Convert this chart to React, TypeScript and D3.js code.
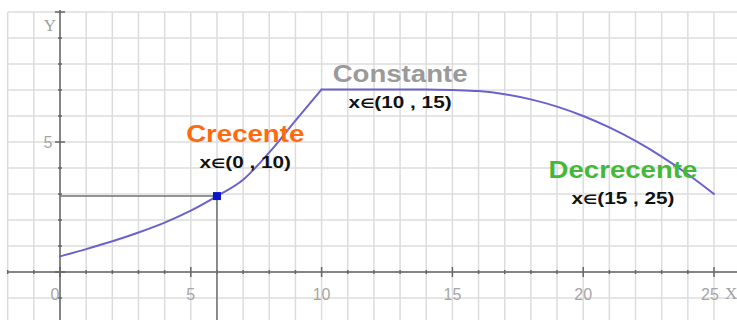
import React, { useEffect, useRef } from 'react';
import * as d3 from 'd3';

// values
const curveX = [0, 1, 2, 3, 4, 5, 6, 7, 8, 9, 10, 11, 12, 13, 14, 15, 16, 17, 18, 19, 20, 21, 22, 23, 24, 25];
const curveY = [0.6, 0.88, 1.18, 1.52, 1.9, 2.36, 2.92, 3.55, 4.6, 5.82, 7.02, 7.02, 7.02, 7.02, 7.02, 7.0, 6.96, 6.84, 6.64, 6.36, 6, 5.56, 5.04, 4.44, 3.76, 3];
const breakX = 10; // corner where the rising part meets the flat part
const markX = 6;
const markY = 2.92;
const xTickLabels = [0, 5, 10, 15, 20, 25];
const yTickLabels = [5];
const regionNames = ['Crecente', 'Constante', 'Decrecente'];
const regionRanges = [['0', '10'], ['10', '15'], ['15', '25']];
const regionColors = ['#ff6a0d', '#9a9a9a', '#44b838'];
const regionAt = [[7.08, 5.0], [13.0, 7.31], [21.52, 3.62]];

const W = 737;
const H = 320;

const App = () => {
    const svgRef = useRef(null);

    useEffect(() => {
        const svg = d3.select(svgRef.current);
        svg.selectAll('*').remove();

        const x = d3.scaleLinear().domain([0, 25]).range([60, 714]);
        const y = d3.scaleLinear().domain([0, 5]).range([272, 142]);

        const left = x(-2);
        const top = y(10);

        // grid
        const g = svg.append('g');
        d3.range(-2, 27).forEach(v => {
            g.append('line')
                .attr('x1', x(v)).attr('x2', x(v))
                .attr('y1', top).attr('y2', H)
                .attr('stroke', '#dcdcdc').attr('stroke-width', 1.5);
        });
        d3.range(-1, 11).forEach(v => {
            g.append('line')
                .attr('x1', left).attr('x2', W)
                .attr('y1', y(v)).attr('y2', y(v))
                .attr('stroke', '#dcdcdc').attr('stroke-width', 1.5);
        });

        // axes
        svg.append('line')
            .attr('x1', left).attr('x2', W)
            .attr('y1', y(0)).attr('y2', y(0))
            .attr('stroke', '#858585').attr('stroke-width', 2);
        svg.append('line')
            .attr('x1', x(0)).attr('x2', x(0))
            .attr('y1', top - 2).attr('y2', H)
            .attr('stroke', '#858585').attr('stroke-width', 2);

        // tick marks
        d3.range(-2, 27).forEach(v => {
            const len = v % 5 === 0 ? 5 : 2;
            svg.append('line')
                .attr('x1', x(v)).attr('x2', x(v))
                .attr('y1', y(0) - len).attr('y2', y(0) + len)
                .attr('stroke', '#666').attr('stroke-width', 1.5);
        });
        d3.range(-1, 11).forEach(v => {
            const len = v % 5 === 0 ? 5 : 2;
            svg.append('line')
                .attr('x1', x(0) - len).attr('x2', x(0) + len)
                .attr('y1', y(v)).attr('y2', y(v))
                .attr('stroke', '#666').attr('stroke-width', 1.5);
        });

        // tick labels
        svg.selectAll('.xlab')
            .data(xTickLabels)
            .enter().append('text')
            .attr('x', d => d === 0 ? x(d) - 5 : (d === 25 ? x(d) - 4 : x(d)))
            .attr('y', 300)
            .attr('text-anchor', 'middle')
            .attr('font-family', 'Liberation Sans, Arial, sans-serif')
            .attr('font-size', 16)
            .attr('fill', '#a6a6a6')
            .text(d => d);
        svg.selectAll('.ylab')
            .data(yTickLabels)
            .enter().append('text')
            .attr('x', x(0) - 12)
            .attr('y', d => y(d) + 6)
            .attr('text-anchor', 'middle')
            .attr('font-family', 'Liberation Sans, Arial, sans-serif')
            .attr('font-size', 16)
            .attr('fill', '#a6a6a6')
            .text(d => d);
        svg.append('text')
            .attr('x', 50).attr('y', 31)
            .attr('text-anchor', 'middle')
            .attr('font-family', 'Liberation Serif, serif')
            .attr('font-size', 17)
            .attr('fill', '#a0a0a0')
            .text('Y');
        svg.append('text')
            .attr('x', 725).attr('y', 299)
            .attr('font-family', 'Liberation Serif, serif')
            .attr('font-size', 17)
            .attr('fill', '#a0a0a0')
            .text('X');

        // guide lines to the marked point
        svg.append('line')
            .attr('x1', x(0)).attr('x2', x(markX))
            .attr('y1', y(markY)).attr('y2', y(markY))
            .attr('stroke', '#707070').attr('stroke-width', 1.5);
        svg.append('line')
            .attr('x1', x(markX)).attr('x2', x(markX))
            .attr('y1', y(markY)).attr('y2', H)
            .attr('stroke', '#707070').attr('stroke-width', 1.5);

        // curve, drawn in two pieces so the corner at x=10 stays sharp
        const pts = curveX.map((v, i) => [v, curveY[i]]);
        const line = d3.line()
            .curve(d3.curveMonotoneX)
            .x(d => x(d[0]))
            .y(d => y(d[1]));
        [pts.filter(d => d[0] <= breakX), pts.filter(d => d[0] >= breakX)].forEach(seg => {
            svg.append('path')
                .datum(seg)
                .attr('fill', 'none')
                .attr('stroke', '#6a62cc')
                .attr('stroke-width', 2)
                .attr('stroke-linejoin', 'round')
                .attr('stroke-linecap', 'round')
                .attr('d', line);
        });

        svg.append('rect')
            .attr('x', x(markX) - 4).attr('y', y(markY) - 4)
            .attr('width', 8).attr('height', 8)
            .attr('fill', '#0a14c8');

        // region labels
        regionNames.forEach((name, i) => {
            const cx = x(regionAt[i][0]);
            const by = y(regionAt[i][1]);
            svg.append('text')
                .attr('transform', `translate(${cx},${by}) scale(1.2,1)`)
                .attr('text-anchor', 'middle')
                .attr('font-family', 'Liberation Sans, Arial, sans-serif')
                .attr('font-weight', 'bold')
                .attr('font-size', 23)
                .attr('fill', regionColors[i])
                .text(name);
            const t = svg.append('text')
                .attr('transform', `translate(${cx},${by + 26}) scale(1.22,1)`)
                .attr('text-anchor', 'middle')
                .attr('font-family', 'Liberation Sans, Arial, sans-serif')
                .attr('font-weight', 'bold')
                .attr('font-size', 17)
                .attr('fill', '#111');
            t.append('tspan').text('x');
            t.append('tspan').attr('font-size', 13).attr('font-family', 'DejaVu Sans, sans-serif').text('∈');
            t.append('tspan').text(`(${regionRanges[i][0]} , ${regionRanges[i][1]})`);
        });
    }, []);

    return (
        <svg ref={svgRef} width={W} height={H}
            style={{ position: 'absolute', left: 0, top: 0, background: '#fff' }} />
    );
};

export default App;
